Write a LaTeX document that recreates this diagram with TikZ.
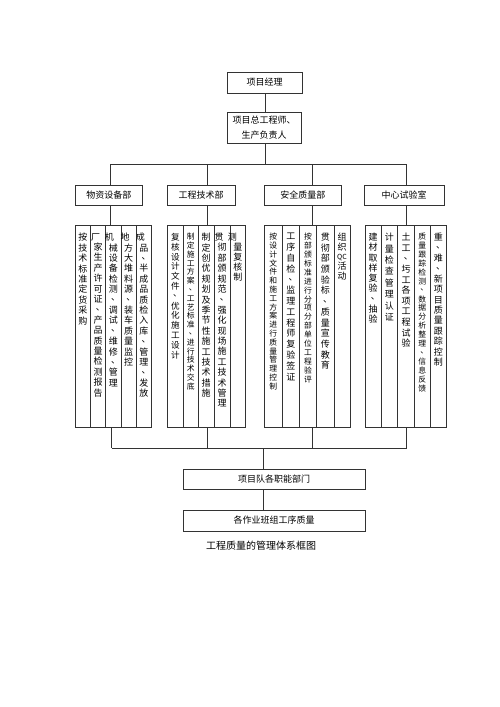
\documentclass[tikz,border=0pt]{standalone}
\usepackage{fontspec}
\setmainfont{Noto Sans CJK SC}
\newfontfamily\cjk{Noto Sans CJK SC}
\makeatletter
\newcommand\vcol[3]{\vbox{\fontsize{#1}{#2}\selectfont\baselineskip=#2\relax\lineskiplimit=-20pt\lineskip=0pt
\@tfor\vch:=#3\do{\hbox to 10pt{\hss\vch\hss}}}}
\makeatother
\newcommand\dun{\raisebox{0.28em}{\kern0.25em、\kern-0.25em}}
\tikzset{
  box/.style={draw=black!80, line width=0.6pt, inner sep=0pt, align=center, font=\cjk\fontsize{9pt}{15pt}\selectfont},
  grp/.style={draw=black!80, line width=0.6pt, inner sep=0pt, minimum height=202pt},
  vc/.style={inner sep=0pt, anchor=north},
  ln/.style={draw=black!80, line width=0.6pt}
}
\begin{document}
\begin{tikzpicture}[x=1pt,y=-1pt]
\useasboundingbox (0,0) rectangle (500,707);
% top boxes
\node[box, minimum width=75pt, minimum height=21pt] (pm) at (264.5,82.5) {项目经理};
\node[box, minimum width=74pt, minimum height=30.6pt] (ce) at (264,128) {项目总工程师、\\生产负责人};
% departments
\node[box, minimum width=67.7pt, minimum height=20.7pt] (d1) at (108.85,195.35) {物资设备部};
\node[box, minimum width=67.7pt, minimum height=20.7pt] (d2) at (201.15,195.35) {工程技术部};
\node[box, minimum width=77.7pt, minimum height=20.7pt] (d3) at (302.85,195.35) {安全质量部};
\node[box, minimum width=80pt, minimum height=20.7pt] (d4) at (404,195.35) {中心试验室};
% groups
\node[grp, minimum width=76.7pt] (g1) at (113.35,326.7) {};
\node[grp, minimum width=78.4pt] (g2) at (206.5,326.7) {};
\node[grp, minimum width=86pt] (g3) at (307,326.7) {};
\node[grp, minimum width=81.7pt] (g4) at (405.85,326.7) {};
% dividers
\foreach \x in {90.7,105.7,121,136, 183.3,198.3,214,230, 282.3,299.3,316.7,334, 381,397.7,414.3,430}
  \draw[ln] (\x,225.7) -- (\x,427.7);
% group 1 texts
\node[vc] (a1) at (82.9,233) {\vcol{9pt}{10.4pt}{按技术标准定货采购}};
\node[vc] (a2) at (98.2,233) {\vcol{9pt}{10.4pt}{{\kern-5pt 厂}家生产许可证\dun 产品质量检测报告}};
\node[vc] (a3) at (113.4,233) {\vcol{9pt}{10.4pt}{{\kern-8pt 机}械设备检测\dun 调试\dun 维修\dun 管理}};
\node[vc] (a4) at (128.5,233) {\vcol{9pt}{10.4pt}{{\kern-7pt 地}方大堆料源\dun 装车质量监控}};
\node[vc] (a5) at (143.9,233) {\vcol{9pt}{10.4pt}{{\kern-7pt 成}品\dun 半成品质检入库\dun 管理\dun 发放}};
% group 2 texts
\node[vc] (b1) at (175.3,233) {\vcol{8.6pt}{9.8pt}{复核设计文件\dun 优化施工设计}};
\node[vc] (b2) at (190.8,233) {\vcol{7.8pt}{8.8pt}{制定施工方案\dun 工艺标准\dun 进行技术交底}};
\node[vc] (b3) at (206.2,233) {\vcol{9pt}{10.4pt}{制定创优规划及季节性施工技术措施}};
\node[vc] (b4) at (222,233) {\vcol{9pt}{10.4pt}{{\kern-6pt 贯}彻部颁规范\dun 强化现场施工技术管理}};
\node[vc] (b5) at (237.9,233) {\vcol{9pt}{10pt}{{\kern-11pt 测}量复核制}};
% group 3 texts
\node[vc] (c1) at (273.2,233) {\vcol{7.8pt}{8.8pt}{按设计文件和施工方案进行质量管理控制}};
\node[vc] (c2) at (290.8,233) {\vcol{9pt}{10.8pt}{工序自检\dun 监理工程师复验签证}};
\node[vc] (c3) at (308,233) {\vcol{7.8pt}{8.9pt}{按部颁标准进行分项分部单位工程验评}};
\node[vc] (c4) at (325.4,233) {\vcol{9pt}{10.7pt}{贯彻部颁验标\dun 质量宣传教育}};
\node[vc] (c5) at (342,233) {\vcol{9pt}{9.6pt}{组织{\fontsize{7pt}{7pt}\selectfont QC}活动}};
% group 4 texts
\node[vc] (e1) at (373,233) {\vcol{9pt}{10.2pt}{建材取样复验\dun 抽验}};
\node[vc] (e2) at (389.4,233) {\vcol{9pt}{11.4pt}{计量检查管理认证}};
\node[vc] (e3) at (406,233) {\vcol{9pt}{10.6pt}{土工\dun 圬工各项工程试验}};
\node[vc] (e4) at (422.2,233) {\vcol{7.8pt}{8.9pt}{质量跟踪检测\dun 数据分析整理\dun 信息反馈}};
\node[vc] (e5) at (438.4,233) {\vcol{9pt}{10.4pt}{重\dun 难\dun 新项目质量跟踪控制}};
% bottom boxes
\node[box, minimum width=181.7pt, minimum height=20pt] (tm) at (274.15,479.3) {项目队各职能部门};
\node[box, minimum width=181.7pt, minimum height=21pt] (wg) at (274.15,520.5) {各作业班组工序质量};
\node[inner sep=0pt, font=\cjk\fontsize{10pt}{12pt}\selectfont] (cap) at (261,545.5) {工程质量的管理体系框图};
% connector coordinates
\coordinate (tc) at (265,164.3);
\coordinate (t1) at (110,164.3);
\coordinate (t2) at (207.3,164.3);
\coordinate (t3) at (312.3,164.3);
\coordinate (t4) at (406.7,164.3);
\coordinate (u1) at (111.7,448.3);
\coordinate (u2) at (207,448.3);
\coordinate (u3) at (312,448.3);
\coordinate (u4) at (406.7,448.3);
\coordinate (uc) at (263.3,448.3);
% connectors
\draw[ln] (pm.south -| tc) -- (ce.north -| tc);
\draw[ln] (ce.south -| tc) -- (tc);
\draw[ln] (t1) -- (t4);
\foreach \i in {1,2,3,4} {
  \draw[ln] (t\i) -- (d\i.north -| t\i);
  \draw[ln] (d\i.south -| t\i) -- (g\i.north -| t\i);
  \draw[ln] (g\i.south -| u\i) -- (u\i);
}
\draw[ln] (u1) -- (u4);
\draw[ln] (uc) -- (tm.north -| uc);
\draw[ln] (tm.south -| uc) -- (wg.north -| uc);
\end{tikzpicture}
\end{document}
